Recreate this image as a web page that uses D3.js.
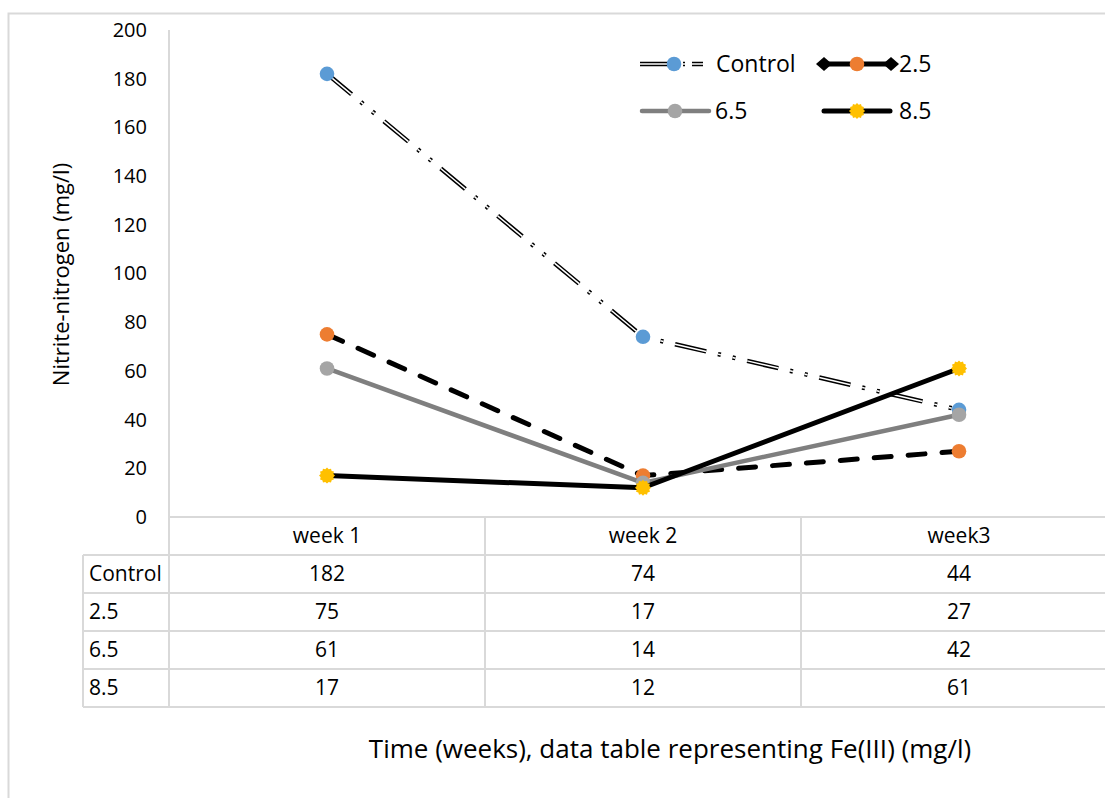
<!DOCTYPE html>
<html>
<head>
<meta charset="utf-8">
<script src="https://cdn.jsdelivr.net/npm/d3@7/dist/d3.min.js"></script>
<style>
  html, body { margin: 0; padding: 0; background: #fff; }
  svg { display: block; font-family: "Open Sans", "Noto Sans", sans-serif; }
</style>
</head>
<body>
<svg id="chart" width="1105" height="798"></svg>
<script>
// Nitrite-nitrogen over three weeks for each Fe(III) dose
const weeks = ["week 1", "week 2", "week3"];
const seriesNames = ["Control", "2.5", "6.5", "8.5"];
const control = [182, 74, 44];
const fe25 = [75, 17, 27];
const fe65 = [61, 14, 42];
const fe85 = [17, 12, 61];
const yTicks = [0, 20, 40, 60, 80, 100, 120, 140, 160, 180, 200];

const values = [control, fe25, fe65, fe85];

const svg = d3.select("#chart");
const W = 1105, H = 798;
const plot = { left: 169, right: 1117, top: 30, bottom: 517 };
const gridColor = "#d9d9d9";

// outer chart frame (continues past the right and bottom edges)
svg.append("path")
  .attr("d", `M8.5,${H} V13.5 H${W}`)
  .attr("fill", "none").attr("stroke", gridColor).attr("stroke-width", 2);

const x = d3.scaleBand().domain(weeks).range([plot.left, plot.right]);
const y = d3.scaleLinear().domain([0, 200]).range([plot.bottom, plot.top]);

// value axis: labels only, plus the light vertical line
const yAxis = d3.axisLeft(y).tickValues(yTicks).tickSize(0).tickPadding(22);
const yg = svg.append("g").attr("transform", `translate(${plot.left},0)`).call(yAxis);
yg.select(".domain").remove();
yg.selectAll("text").attr("font-size", 20).attr("fill", "#000")
  .attr("font-family", "'Open Sans', sans-serif");

svg.append("line")
  .attr("x1", plot.left).attr("x2", plot.left)
  .attr("y1", plot.top).attr("y2", plot.bottom)
  .attr("stroke", gridColor).attr("stroke-width", 2);

// data table under the plot
const table = { left: 83, top: 517, rowH: 38 };
const rowCount = seriesNames.length;
const tableBottom = table.top + table.rowH * (rowCount + 1);
const tg = svg.append("g").attr("stroke", gridColor).attr("stroke-width", 2);
// header row line and row separators
tg.append("line").attr("x1", plot.left).attr("x2", W).attr("y1", table.top).attr("y2", table.top);
for (let r = 1; r <= rowCount + 1; r++) {
  const yy = table.top + table.rowH * r;
  tg.append("line").attr("x1", table.left).attr("x2", W).attr("y1", yy).attr("y2", yy);
}
// vertical separators
tg.append("line").attr("x1", table.left).attr("x2", table.left)
  .attr("y1", table.top + table.rowH).attr("y2", tableBottom);
tg.append("line").attr("x1", plot.left).attr("x2", plot.left)
  .attr("y1", table.top).attr("y2", tableBottom);
weeks.slice(1).forEach(w => {
  tg.append("line").attr("x1", x(w)).attr("x2", x(w))
    .attr("y1", table.top).attr("y2", tableBottom);
});

const cellFont = 21;
// header labels
svg.append("g").selectAll("text").data(weeks).join("text")
  .attr("x", d => x(d) + x.bandwidth() / 2)
  .attr("y", table.top + table.rowH / 2)
  .attr("dy", "0.35em").attr("text-anchor", "middle")
  .attr("font-size", cellFont).text(d => d);
// series rows
seriesNames.forEach((name, i) => {
  const cy = table.top + table.rowH * (i + 1.5);
  svg.append("text").attr("x", table.left + 6).attr("y", cy).attr("dy", "0.35em")
    .attr("font-size", cellFont).text(name);
  svg.append("g").selectAll("text").data(values[i]).join("text")
    .attr("x", (d, j) => x(weeks[j]) + x.bandwidth() / 2)
    .attr("y", cy).attr("dy", "0.35em").attr("text-anchor", "middle")
    .attr("font-size", cellFont).text(d => d);
});

// axis titles
svg.append("text")
  .attr("transform", `translate(69,${(plot.top + plot.bottom) / 2 + 1}) rotate(-90)`)
  .attr("text-anchor", "middle").attr("font-size", 22)
  .text("Nitrite-nitrogen (mg/l)");
svg.append("text")
  .attr("x", 670).attr("y", 758).attr("text-anchor", "middle")
  .attr("font-size", 26)
  .text("Time (weeks), data table representing Fe(III) (mg/l)");

const line = d3.line()
  .x((d, j) => x(weeks[j]) + x.bandwidth() / 2)
  .y(d => y(d));

const ctrlDash = "32,12,3,12,3,12";
const lineStyles = {
  "Control": [
    { stroke: "#000", width: 4.5, dash: ctrlDash, cap: "butt" },
    { stroke: "#fff", width: 1.5, dash: ctrlDash, cap: "butt" }
  ],
  "2.5": [{ stroke: "#000", width: 5, dash: "17,17", cap: "round" }],
  "6.5": [{ stroke: "#7f7f7f", width: 4.5, dash: null, cap: "round" }],
  "8.5": [{ stroke: "#000", width: 5, dash: null, cap: "round" }]
};
const markerColors = {
  "Control": "#5b9bd5", "2.5": "#ed7d31", "6.5": "#a5a5a5", "8.5": "#ffc000"
};

// serrated star-ish marker for the 8.5 series
function sunPath(r, n) {
  const pts = [];
  for (let k = 0; k < n * 2; k++) {
    const a = Math.PI * k / n;
    const rr = k % 2 === 0 ? r : r * 0.82;
    pts.push([rr * Math.cos(a), rr * Math.sin(a)]);
  }
  return "M" + pts.map(p => p.join(",")).join("L") + "Z";
}

// flat diamond (wider than tall)
function diamondPath(w, h) {
  return `M${-w / 2},0L0,${-h / 2}L${w / 2},0L0,${h / 2}Z`;
}

function drawMarker(g, name, cx, cy) {
  if (name === "2.5") {
    g.append("path").attr("d", diamondPath(14, 13))
      .attr("transform", `translate(${cx},${cy})`).attr("fill", "#000");
  }
  if (name === "8.5") {
    g.append("path").attr("d", sunPath(8, 12))
      .attr("transform", `translate(${cx},${cy})`)
      .attr("fill", markerColors[name]);
  } else {
    g.append("circle").attr("cx", cx).attr("cy", cy).attr("r", 7.3)
      .attr("fill", markerColors[name]);
  }
}

const seriesG = svg.append("g");
seriesNames.forEach((name, i) => {
  const g = seriesG.append("g");
  lineStyles[name].forEach(s => {
    g.append("path").datum(values[i]).attr("d", line)
      .attr("fill", "none").attr("stroke", s.stroke).attr("stroke-width", s.width)
      .attr("stroke-dasharray", s.dash).attr("stroke-linecap", s.cap)
      .attr("stroke-linejoin", "round");
  });
  values[i].forEach((v, j) => drawMarker(g, name, x(weeks[j]) + x.bandwidth() / 2, y(v)));
});

// legend
const legendItems = [
  { name: "Control", x0: 640, x1: 703, mx: 674, tx: 716, y: 64 },
  { name: "2.5", x0: 824, x1: 891, mx: 857, tx: 899, y: 64 },
  { name: "6.5", x0: 642, x1: 709, mx: 675, tx: 715, y: 111 },
  { name: "8.5", x0: 824, x1: 890, mx: 857, tx: 899, y: 111 }
];
const lg = svg.append("g");
legendItems.forEach(it => {
  lineStyles[it.name].forEach(s => {
    lg.append("line").attr("x1", it.x0).attr("x2", it.x1).attr("y1", it.y).attr("y2", it.y)
      .attr("stroke", s.stroke).attr("stroke-width", s.width)
      .attr("stroke-dasharray", it.name === "Control" ? "36,7,2,7" : null)
      .attr("stroke-linecap", it.name === "Control" ? "butt" : "round");
  });
  if (it.name === "2.5") {
    [it.x0, it.x1].forEach(ex => lg.append("path")
      .attr("d", diamondPath(16, 14))
      .attr("transform", `translate(${ex},${it.y})`).attr("fill", "#000"));
    lg.append("circle").attr("cx", it.mx).attr("cy", it.y).attr("r", 7.3)
      .attr("fill", markerColors[it.name]);
  } else {
    drawMarker(lg, it.name, it.mx, it.y);
  }
  lg.append("text").attr("x", it.tx).attr("y", it.y).attr("dy", "0.35em")
    .attr("font-size", 23).text(it.name);
});
</script>
</body>
</html>
